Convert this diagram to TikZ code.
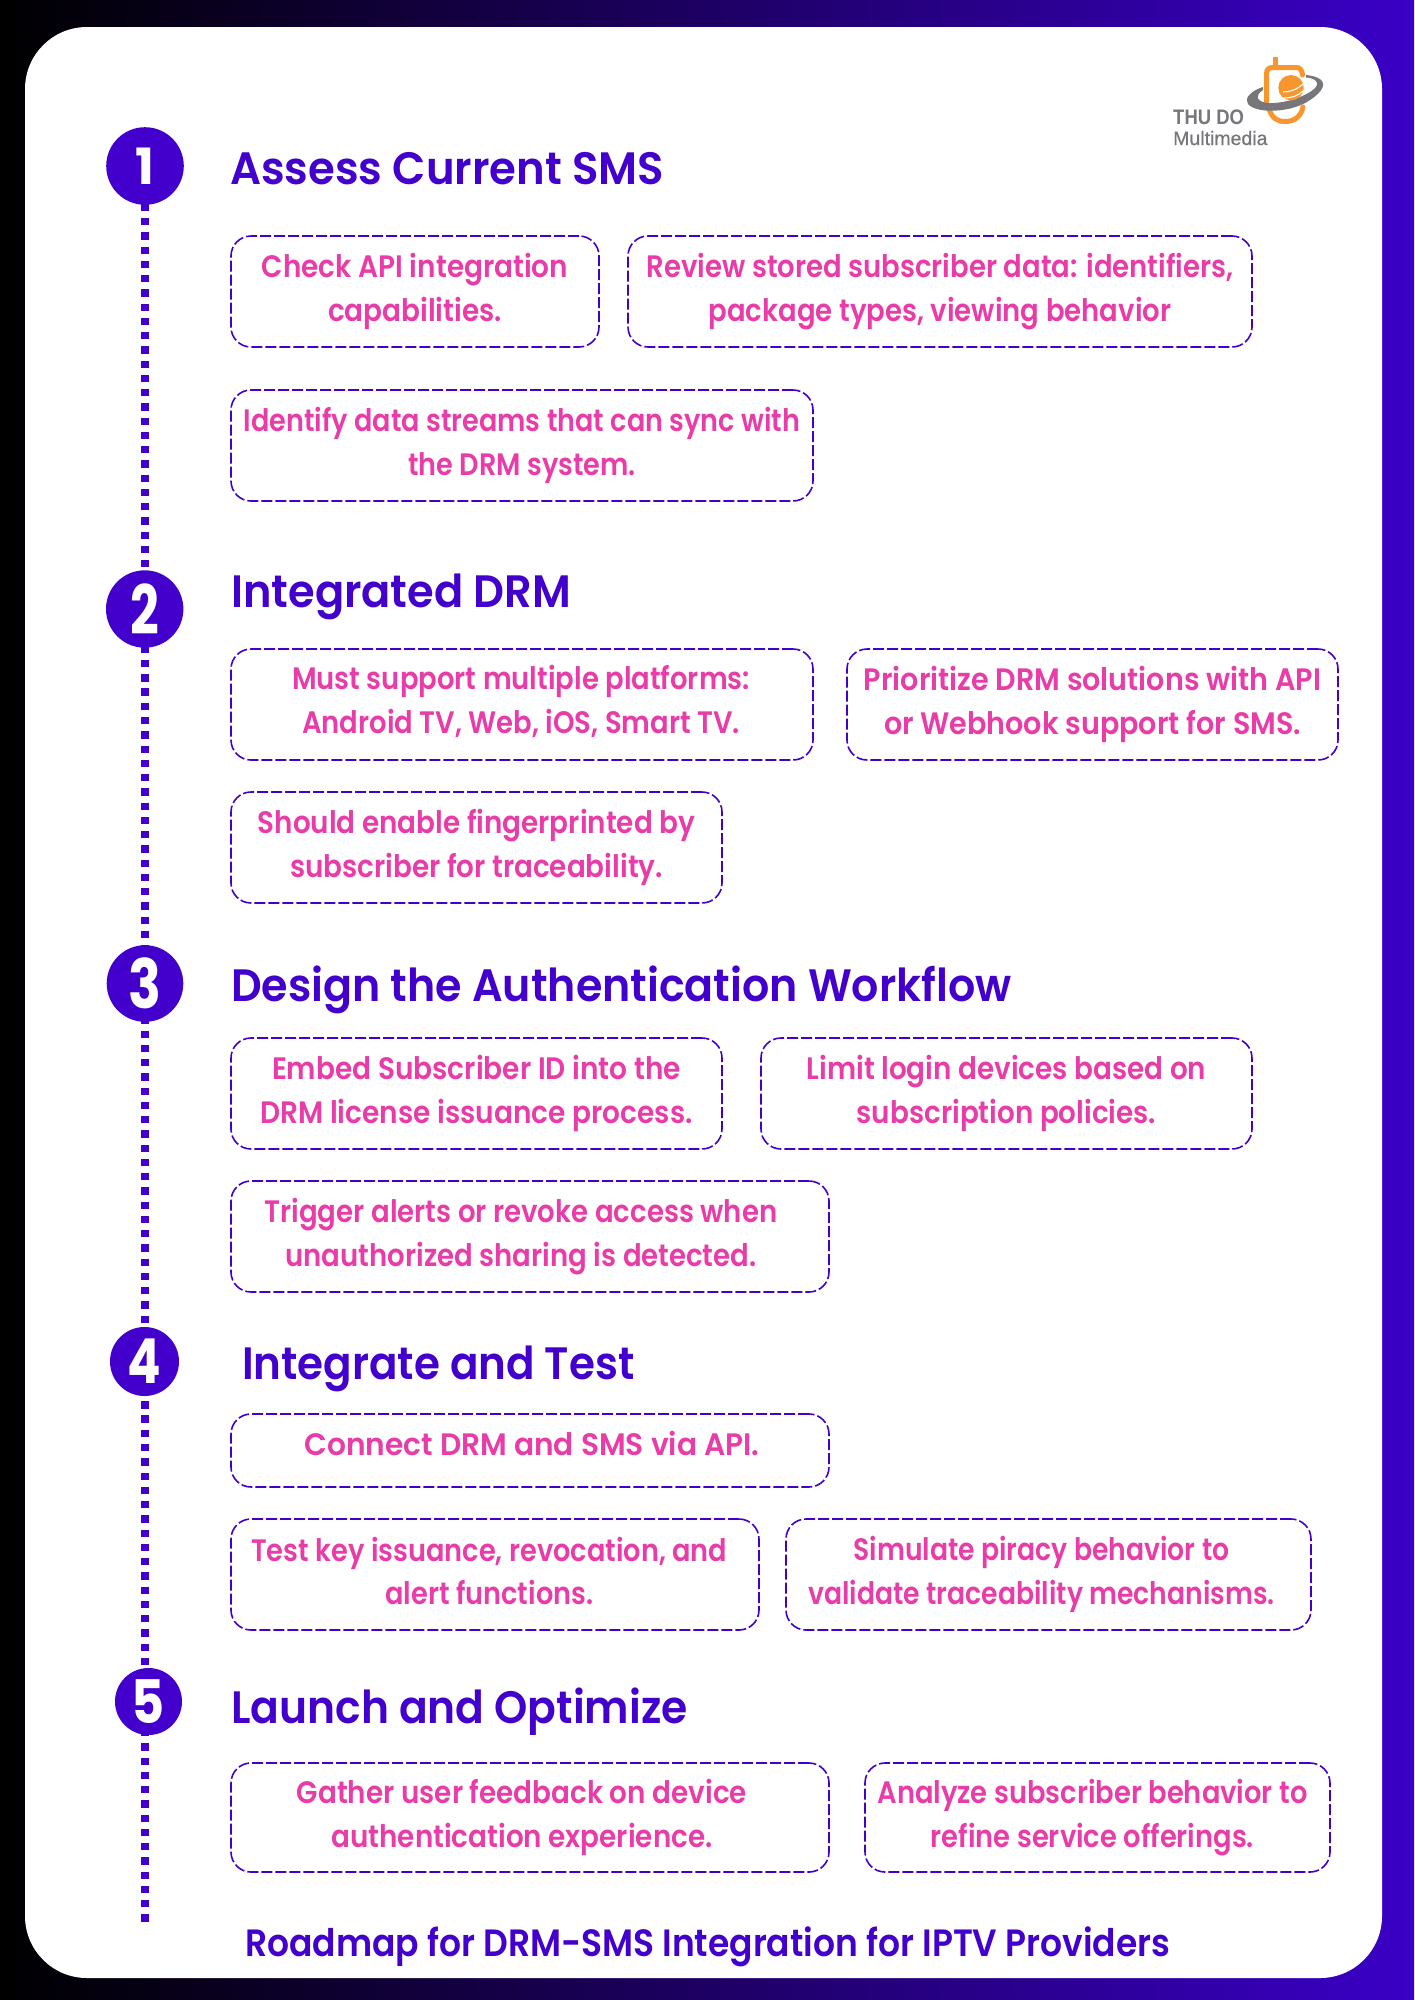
\documentclass[tikz,border=0pt]{standalone}
\usepackage{fontspec}
\usepackage{graphicx}
\setmainfont{Poppins}[UprightFont=*-SemiBold,BoldFont=*-Bold]
\newfontfamily\logofont{Liberation Sans}
\definecolor{ind}{HTML}{4300CC}
\definecolor{edge}{HTML}{3A00C6}
\definecolor{pnk}{HTML}{E83CA8}
\definecolor{org}{HTML}{F7962F}
\definecolor{gry}{HTML}{77777B}
\tikzset{
  x=1pt,y=-1pt,
  numdot/.style={circle,fill=ind,text=white,inner sep=0pt,font=\bfseries},
  head/.style={anchor=west,inner sep=0pt,text=ind,font=\fontsize{45.4}{50}\selectfont\addfontfeatures{FakeStretch=#1}},
  foot/.style={anchor=west,inner sep=0pt,text=ind,font=\fontsize{38}{40}\selectfont\addfontfeatures{FakeStretch=.908}},
  bxs/.style={draw=ind,line width=1.6pt,dash pattern=on 11pt off 3pt,rounded corners=20pt,inner sep=0pt},
  bxt/.style={align=center,inner sep=0pt,text=pnk,font=\fontsize{31}{43.6}\selectfont\addfontfeatures{FakeStretch=#1}},
  dots/.style={draw=ind,line width=7.3pt,dash pattern=on 7.3pt off 6.955pt},
  logotxt/.style={inner sep=0pt,anchor=base west,text=gry}
}
% name, x1,y1,x2,y2, text dx, text dy, stretch ; text follows
\newcommand{\bx}[9]{\node[bxs,minimum width={(#4-#2)*1pt},minimum height={(#5-#3)*1pt}] (#1) at ({(#2+#4)/2},{(#3+#5)/2}) {};
  \node[bxt=#8] (#1t) at ({(#2+#4)/2+#6},{(#3+#5)/2+#7}) {#9};}
\begin{document}
\begin{tikzpicture}
\useasboundingbox (0,0) rectangle (1414,2000);
\shade[left color=black,right color=edge] (0,0) rectangle (1414,2000);
\fill[white,rounded corners=62pt] (25,27) rectangle (1382,1978);

\coordinate (linetop) at (145,203.8);
\coordinate (lineend) at (145,1921.65);
\draw[dots] (linetop) -- (lineend);

\node[numdot,minimum size=77.6pt,font=\fontsize{50}{50}\selectfont\bfseries] (c1) at (145,166) {1};
\node[numdot,minimum size=77.4pt,font=\fontsize{68}{68}\selectfont\bfseries] (c2) at (144.7,609) {\scalebox{.74}[1]{2}};
\node[numdot,minimum size=76.6pt,font=\fontsize{68}{68}\selectfont\bfseries] (c3) at (145,983.5) {\scalebox{.8}[1]{3}};
\node[numdot,minimum size=69pt,font=\fontsize{62}{62}\selectfont\bfseries] (c4) at (144.5,1361.5) {\scalebox{.8}[1]{4}};
\node[numdot,minimum size=67pt,font=\fontsize{60}{60}\selectfont\bfseries] (c5) at (148.5,1701.5) {\scalebox{.85}[1]{5}};

\node[head=.955] (h1) at (230,169) {Assess Current SMS};
\node[head=.95] (h2) at (231,596.5) {Integrated DRM};
\node[head=.942] (h3) at (231,990) {Design the Authentication Workflow};
\node[head=.926] (h4) at (242,1368.5) {Integrate and Test};
\node[head=.934] (h5) at (231,1711.5) {Launch and Optimize};

\bx{b1a}{231}{236}{599}{347}{0}{0}{.90}{Check API integration\\capabilities.}
\bx{b1b}{628}{236}{1252}{347}{0}{0}{.887}{Review stored subscriber data: identifiers,\\package types, viewing behavior}
\bx{b1c}{231}{390}{813}{501}{0}{0}{.873}{Identify data streams that can sync with\\the DRM system.}
\bx{b2a}{231}{649}{813}{760}{-1}{-3}{.885}{Must support multiple platforms:\\Android TV, Web, iOS, Smart TV.}
\bx{b2b}{847}{649}{1338}{760}{0}{0}{.922}{Prioritize DRM solutions with API\\or Webhook support for SMS.}
\bx{b2c}{231}{792}{722}{903}{0}{0}{.897}{Should enable fingerprinted by\\subscriber for traceability.}
\bx{b3a}{231}{1038}{722}{1149}{0}{0}{.903}{Embed Subscriber ID into the\\DRM license issuance process.}
\bx{b3b}{761}{1038}{1252}{1149}{0}{0}{.897}{Limit login devices based on\\subscription policies.}
\bx{b3c}{231}{1181}{829}{1292}{-9}{0}{.889}{Trigger alerts or revoke access when\\unauthorized sharing is detected.}
\bx{b4a}{231}{1414}{829}{1487}{2}{-7}{.958}{Connect DRM and SMS via API.}
\bx{b4b}{231}{1519}{759}{1630}{-5.7}{-3.5}{.878}{Test key issuance, revocation, and\\alert functions.}
\bx{b4c}{786}{1519}{1311}{1630}{-7}{0}{.86}{Simulate piracy behavior to\\validate traceability mechanisms.}
\bx{b5a}{231}{1763}{829}{1872}{-8}{0}{.897}{Gather user feedback on device\\authentication experience.}
\bx{b5b}{865}{1763}{1330}{1872}{-5}{0}{.881}{Analyze subscriber behavior to\\refine service offerings.}

\node[foot] (ft) at (245,1947) {Roadmap for DRM-SMS Integration for IPTV Providers};

% logo
\fill[org] (1273,57) rectangle (1278,66);
\draw[org,line width=5pt,line cap=round] (1266.5,102) -- (1266.5,74) .. controls (1266.5,69) and (1269,67.5) .. (1273,67.5) -- (1296,67.5) .. controls (1300,67.5) and (1302,70) .. (1302.5,75);
\draw[org,line width=5pt,line cap=round] (1269,109) .. controls (1272,118) and (1277,121.5) .. (1285,121.5) .. controls (1295,121.5) and (1301,116) .. (1303,107);
\fill[gry] (1263,87) .. controls (1250,91) and (1244,99) .. (1248,104) .. controls (1256,114) and (1292,113) .. (1310,100) .. controls (1324,91) and (1327,82) .. (1318,78) .. controls (1315,76.5) and (1311,75.5) .. (1306,75) -- (1306,77.5) .. controls (1314,78) and (1318,81) .. (1317,85) .. controls (1315,92) and (1290,104) .. (1268,103) .. controls (1257,102) and (1254,96) .. (1263,90) -- cycle;
\fill[org] (1291,87.7) circle (12.7);
\draw[white,line width=1.1pt] (1283,92) .. controls (1291,92) and (1298,89) .. (1304,83);
\draw[white,line width=1.1pt] (1284,98) .. controls (1291,98) and (1298,96) .. (1303,91);
\node[logotxt,font=\logofont\fontsize{21}{24}\selectfont\bfseries\addfontfeatures{FakeStretch=.88}] (lg1) at (1173,124) {THU DO};
\node[logotxt,font=\logofont\fontsize{19.5}{20}\selectfont\addfontfeatures{FakeBold=.6}] (lg2) at (1173,145) {Multimedia};
\end{tikzpicture}
\end{document}
